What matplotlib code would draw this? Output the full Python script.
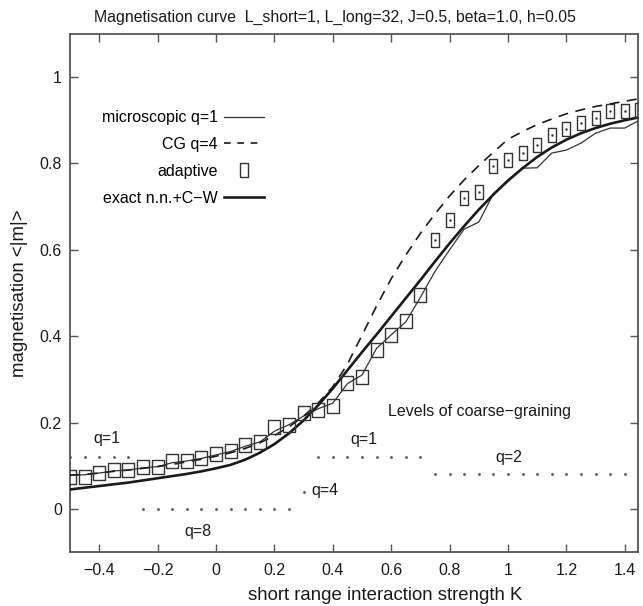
import numpy as np
import matplotlib

matplotlib.use("Agg")
import matplotlib.pyplot as plt
from matplotlib.lines import Line2D

plt.rcParams["font.family"] = ["Liberation Sans", "DejaVu Sans"]

# short range coupling K, grid shared by all series
k_values = [
    -0.50, -0.45, -0.40, -0.35, -0.30, -0.25, -0.20, -0.15, -0.10, -0.05,
    0.00, 0.05, 0.10, 0.15, 0.20, 0.25, 0.30, 0.35, 0.40, 0.45,
    0.50, 0.55, 0.60, 0.65, 0.70, 0.75, 0.80, 0.85, 0.90, 0.95,
    1.00, 1.05, 1.10, 1.15, 1.20, 1.25, 1.30, 1.35, 1.40, 1.45,
]
microscopic = [
    0.078, 0.079, 0.083, 0.088, 0.090, 0.095, 0.098, 0.107, 0.111, 0.117,
    0.125, 0.133, 0.145, 0.155, 0.180, 0.195, 0.215, 0.232, 0.245, 0.290,
    0.310, 0.372, 0.403, 0.433, 0.490, 0.550, 0.600, 0.648, 0.664, 0.730,
    0.762, 0.789, 0.790, 0.824, 0.831, 0.847, 0.870, 0.882, 0.882, 0.900,
]
cg_q4 = [
    0.078, 0.080, 0.083, 0.087, 0.090, 0.094, 0.098, 0.103, 0.109, 0.115,
    0.122, 0.130, 0.140, 0.153, 0.170, 0.190, 0.215, 0.245, 0.283, 0.335,
    0.402, 0.470, 0.533, 0.588, 0.638, 0.683, 0.725, 0.762, 0.795, 0.826,
    0.856, 0.874, 0.890, 0.903, 0.915, 0.924, 0.932, 0.938, 0.944, 0.950,
]
adaptive = [
    0.075, 0.075, 0.083, 0.090, 0.090, 0.096, 0.098, 0.110, 0.112, 0.117,
    0.127, 0.134, 0.147, 0.156, 0.189, 0.194, 0.222, 0.229, 0.238, 0.292,
    0.306, 0.368, 0.403, 0.434, 0.495, 0.623, 0.669, 0.719, 0.735, 0.794,
    0.808, 0.825, 0.843, 0.866, 0.879, 0.893, 0.906, 0.921, 0.921, 0.924,
]
exact = [
    0.045, 0.049, 0.053, 0.057, 0.061, 0.066, 0.071, 0.076, 0.081, 0.087,
    0.094, 0.102, 0.114, 0.130, 0.150, 0.175, 0.205, 0.240, 0.279, 0.321,
    0.363, 0.404, 0.446, 0.488, 0.530, 0.573, 0.615, 0.655, 0.693, 0.728,
    0.760, 0.789, 0.815, 0.837, 0.855, 0.870, 0.882, 0.892, 0.900, 0.907,
]
# coarse-graining level used by the adaptive scheme at each K
cg_level = [
    1, 1, 1, 1, 1, 8, 8, 8, 8, 8,
    8, 8, 8, 8, 8, 8, 4, 1, 1, 1,
    1, 1, 1, 1, 1, 2, 2, 2, 2, 2,
    2, 2, 2, 2, 2, 2, 2, 2, 2, 2,
]
level_labels = ["q=1", "q=1", "q=2", "q=4", "q=8"]
level_label_pos = [(-0.373, 0.162), (0.507, 0.160), (1.003, 0.120), (0.373, 0.042), (-0.062, -0.053)]

x_ticks = [-0.4, -0.2, 0, 0.2, 0.4, 0.6, 0.8, 1, 1.2, 1.4]
x_tick_labels = ["\u22120.4", "\u22120.2", "0", "0.2", "0.4", "0.6", "0.8", "1", "1.2", "1.4"]
y_ticks = [0, 0.2, 0.4, 0.6, 0.8, 1]
y_tick_labels = ["0", "0.2", "0.4", "0.6", "0.8", "1"]

ink = "#1a1a1a"
frame = "#555555"

k = np.array(k_values)
ad = np.array(adaptive)
lev = np.array(cg_level)

fig = plt.figure(figsize=(6.43, 6.06), dpi=100)
ax = fig.add_axes([0.109, 0.089, 0.883, 0.855])

ax.plot(k, microscopic, color="#333333", linewidth=0.9, zorder=3)
ax.plot(k, cg_q4, color=ink, linewidth=1.2, linestyle=(0, (6, 4.5)), zorder=3)
ax.plot(k, exact, color=ink, linewidth=1.9, zorder=4)

box_sq = [(-0.42, -0.5), (0.42, -0.5), (0.42, 0.5), (-0.42, 0.5), (-0.42, -0.5)]
box_tall = [(-0.31, -0.5), (0.31, -0.5), (0.31, 0.5), (-0.31, 0.5), (-0.31, -0.5)]
low = lev != 2
ax.plot(k[low], ad[low], linestyle="none", marker=box_sq, markersize=9.5,
        markerfacecolor="none", markeredgecolor="#333333", markeredgewidth=1.0, zorder=5)
ax.plot(k[~low], ad[~low], linestyle="none", marker=box_tall, markersize=9.6,
        markerfacecolor="none", markeredgecolor="#333333", markeredgewidth=1.0, zorder=5)
ax.plot(k[~low], ad[~low], linestyle="none", marker=".", markersize=1.5, color="#333333", zorder=5)

# dotted rows showing the coarse-graining level
level_y = 0.12 - 0.04 * np.log2(lev)
ax.plot(k, level_y, linestyle="none", marker=".", markersize=2, color="#555555", zorder=2)
for text, (tx, ty) in zip(level_labels, level_label_pos):
    ax.text(tx, ty, text, ha="center", va="center", fontsize=11.5, color=ink)
ax.text(0.904, 0.225, "Levels of coarse\u2212graining", ha="center", va="center", fontsize=11.5, color=ink)

ax.set_xlim(-0.5, 1.445)
ax.set_ylim(-0.1, 1.1)
ax.set_xticks(x_ticks)
ax.set_xticklabels(x_tick_labels)
ax.set_yticks(y_ticks)
ax.set_yticklabels(y_tick_labels)
ax.tick_params(direction="in", length=6, width=1, color=frame, labelsize=11.5,
               labelcolor=ink, top=True, right=True)
ax.tick_params(axis="x", pad=8)
ax.tick_params(axis="y", pad=6)
for spine in ax.spines.values():
    spine.set_color(frame)
    spine.set_linewidth(1.3)

ax.set_xlabel("short range interaction strength K", fontsize=13.4, color=ink)
ax.xaxis.set_label_coords(0.555, -0.068)
ax.set_ylabel("magnetisation <|m|>", fontsize=13.4, color=ink, labelpad=8)
ax.set_title("Magnetisation curve  L_short=1, L_long=32, J=0.5, beta=1.0, h=0.05",
             fontsize=11.4, color=ink, x=0.467, pad=9)

handles = [
    Line2D([], [], color="#333333", linewidth=0.9),
    Line2D([], [], color=ink, linewidth=1.2, linestyle=(0, (4, 4))),
    Line2D([], [], linestyle="none", marker=box_tall, markersize=9.6,
           markerfacecolor="none", markeredgecolor="#333333", markeredgewidth=1.0),
    Line2D([], [], color=ink, linewidth=1.9),
]
labels = ["microscopic q=1", "CG q=4", "adaptive", "exact n.n.+C\u2212W"]
ax.legend(handles, labels, loc="upper left", bbox_to_anchor=(0.056, 0.853),
          frameon=False, markerfirst=False, fontsize=11.5, handlelength=2.5,
          handletextpad=0.4, labelspacing=0.75, borderpad=0, borderaxespad=0)

fig.savefig("out.png", dpi=100)
